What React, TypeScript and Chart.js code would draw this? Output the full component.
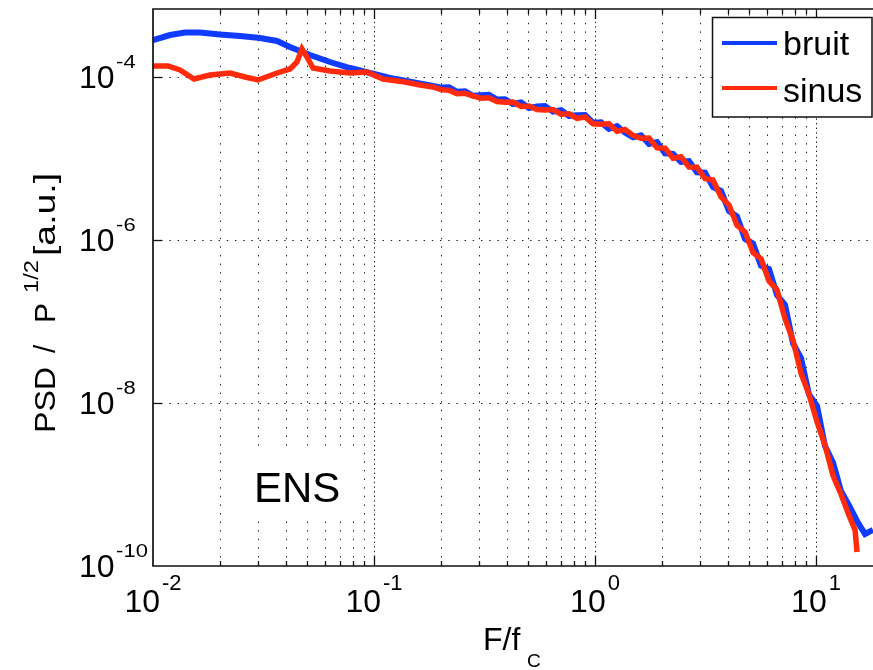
import React, { useEffect, useRef } from 'react';
import { Chart, registerables } from 'chart.js';

Chart.register(...registerables);

// ---- Data ----
const X_MIN = 0.01;
const X_MAX = 18.11;
const Y_MIN = 1e-10;
const Y_MAX = 6.83e-4;

const xMajorTicks = [0.01, 0.1, 1, 10];
const xTickExponents = ['-2', '-1', '0', '1'];
const xMinorMultipliers = [2, 3, 4, 5, 6, 7, 8, 9];
const yMajorTicks = [1e-10, 1e-8, 1e-6, 1e-4];
const yTickExponents = ['-10', '-8', '-6', '-4'];

const bruitFreq = [
  0.01, 0.01194, 0.01396, 0.01632, 0.0201, 0.02476, 0.0305, 0.0364, 0.04168, 0.05133,
  0.06324, 0.07789, 0.09592, 0.1182, 0.1565, 0.1849,
  0.201, 0.2185, 0.2375, 0.2581, 0.2805, 0.3049, 0.3314, 0.3602, 0.3915, 0.4256,
  0.4626, 0.5028, 0.5465, 0.594, 0.6457, 0.7018, 0.7628, 0.8291, 0.9012, 0.9795,
  1.0646, 1.157, 1.258, 1.367, 1.486, 1.615, 1.756, 1.908, 2.074, 2.254,
  2.45, 2.663, 2.894, 3.146, 3.42, 3.717, 4.04, 4.391, 4.773, 5.188,
  5.639, 6.129, 6.662, 7.241, 7.87, 8.554, 9.299, 10.11, 10.98, 11.94,
  12.98, 14.11, 15.33, 16.67, 18.11,
];
const bruitPsd = [
  2.844e-4, 3.276e-4, 3.516e-4, 3.516e-4, 3.323e-4, 3.184e-4, 3.009e-4, 2.765e-4, 2.334e-4, 1.862e-4,
  1.528e-4, 1.289e-4, 1.12e-4, 9.72e-5, 8.44e-5, 7.76e-5,
  7.41e-5, 7.5e-5, 6.58e-5, 6.68e-5, 5.88e-5, 5.98e-5, 6.05e-5, 5.3e-5, 5.32e-5, 4.66e-5,
  4.87e-5, 4.17e-5, 4.36e-5, 4.41e-5, 3.76e-5, 3.91e-5, 3.34e-5, 3.39e-5, 3.42e-5, 2.75e-5,
  2.78e-5, 2.31e-5, 2.49e-5, 2.08e-5, 1.82e-5, 1.93e-5, 1.51e-5, 1.59e-5, 1.16e-5, 1.14e-5,
  9.11e-6, 9.29e-6, 6.79e-6, 6.71e-6, 4.47e-6, 3.99e-6, 2.27e-6, 1.95e-6, 1.03e-6, 9.03e-7,
  4.83e-7, 4.41e-7, 2.11e-7, 1.6e-7, 5.39e-8, 3.55e-8, 1.27e-8, 9.19e-9, 2.97e-9, 1.86e-9,
  8.27e-10, 5.54e-10, 3.57e-10, 2.47e-10, 2.77e-10,
];

const sinusFreq = [
  0.01, 0.01169, 0.01325, 0.01533, 0.01811, 0.02231, 0.02608, 0.02987, 0.0364, 0.04168,
  0.04483, 0.04722, 0.04975, 0.05297, 0.06324, 0.07789, 0.09297, 0.1098, 0.1381, 0.1615,
  0.1849,
  0.201, 0.2185, 0.2375, 0.2581, 0.2805, 0.3049, 0.3314, 0.3602, 0.3915, 0.4256,
  0.4626, 0.5028, 0.5465, 0.594, 0.6457, 0.7018, 0.7628, 0.8291, 0.9012, 0.9795,
  1.0646, 1.157, 1.258, 1.367, 1.486, 1.615, 1.756, 1.908, 2.074, 2.254,
  2.45, 2.663, 2.894, 3.146, 3.42, 3.717, 4.04, 4.391, 4.773, 5.188,
  5.639, 6.129, 6.662, 7.241, 7.87, 8.554, 9.299, 10.11, 10.98, 11.94,
  12.98, 14.11, 15.02, 15.33,
];
const sinusPsd = [
  1.365e-4, 1.365e-4, 1.219e-4, 9.45e-5, 1.058e-4, 1.12e-4, 1.0e-4, 9.19e-5, 1.12e-4, 1.254e-4,
  1.528e-4, 2.206e-4, 1.759e-4, 1.289e-4, 1.185e-4, 1.12e-4, 1.152e-4, 9.45e-5, 8.68e-5, 7.98e-5,
  7.54e-5,
  7.0e-5, 6.89e-5, 6.22e-5, 6.31e-5, 5.88e-5, 5.5e-5, 5.56e-5, 5.0e-5, 4.89e-5, 4.93e-5,
  4.35e-5, 4.41e-5, 4.0e-5, 3.94e-5, 3.98e-5, 3.5e-5, 3.54e-5, 3.11e-5, 3.23e-5, 2.67e-5,
  2.63e-5, 2.67e-5, 2.16e-5, 2.27e-5, 1.92e-5, 1.77e-5, 1.78e-5, 1.35e-5, 1.34e-5, 1.01e-5,
  1.05e-5, 7.84e-6, 7.83e-6, 5.67e-6, 5.45e-6, 3.37e-6, 2.69e-6, 1.51e-6, 1.26e-6, 7.0e-7,
  5.88e-7, 3.14e-7, 2.44e-7, 1.08e-7, 5.86e-8, 2.32e-8, 1.27e-8, 5.85e-9, 3.05e-9, 1.29e-9,
  7.6e-10, 4.18e-10, 2.77e-10, 1.49e-10,
];

const seriesLabels = ['bruit', 'sinus'];
const annotationText = 'ENS';

// ---- Styles ----
const FONT = '"Liberation Sans", Arial, Helvetica, sans-serif';
const BLUE = '#0f3cff';
const RED = '#ff2b0a';
const GRID = '#1c1c1c';

function toPoints(xs: number[], ys: number[]) {
  return xs.map((x, i) => ({ x, y: ys[i] }));
}

function fitText(ctx: CanvasRenderingContext2D, text: string, x: number, y: number, len: number) {
  const w = ctx.measureText(text).width;
  ctx.save();
  ctx.translate(x, y);
  ctx.scale(len / w, 1);
  ctx.fillText(text, 0, 0);
  ctx.restore();
}

const matlabPlugin = {
  id: 'matlabAxes',
  beforeDraw(chart: any) {
    const { ctx, width, height } = chart;
    ctx.save();
    ctx.fillStyle = '#ffffff';
    ctx.fillRect(0, 0, width, height);
    ctx.restore();
  },
  beforeDatasetsDraw(chart: any) {
    const ctx: CanvasRenderingContext2D = chart.ctx;
    const xs = chart.scales.x;
    const ys = chart.scales.y;
    const a = chart.chartArea;
    ctx.save();
    ctx.strokeStyle = GRID;
    ctx.lineWidth = 1;
    // vertical grid: minor
    ctx.setLineDash([1.4, 7.2]);
    xMajorTicks.forEach((base) => {
      xMinorMultipliers.forEach((m) => {
        const v = base * m;
        if (v <= X_MIN || v >= X_MAX) return;
        const px = Math.round(xs.getPixelForValue(v)) + 0.5;
        ctx.beginPath();
        ctx.moveTo(px, a.bottom);
        ctx.lineTo(px, a.top);
        ctx.stroke();
      });
    });
    // vertical grid: major (denser)
    ctx.setLineDash([1.4, 3.2]);
    xMajorTicks.forEach((v) => {
      if (v <= X_MIN || v >= X_MAX) return;
      const px = Math.round(xs.getPixelForValue(v)) + 0.5;
      ctx.beginPath();
      ctx.moveTo(px, a.bottom);
      ctx.lineTo(px, a.top);
      ctx.stroke();
    });
    // horizontal grid
    ctx.setLineDash([1.4, 6.8]);
    yMajorTicks.forEach((v) => {
      if (v <= Y_MIN || v >= Y_MAX) return;
      const py = Math.round(ys.getPixelForValue(v)) + 0.5;
      ctx.beginPath();
      ctx.moveTo(a.left, py);
      ctx.lineTo(a.right, py);
      ctx.stroke();
    });
    ctx.setLineDash([]);

    // ENS annotation with white background
    ctx.fillStyle = '#ffffff';
    ctx.fillRect(240, 450, 118, 70);
    ctx.fillStyle = '#000000';
    ctx.font = `42px ${FONT}`;
    ctx.textBaseline = 'alphabetic';
    ctx.textAlign = 'left';
    ctx.fillText(annotationText, 254, 502);
    ctx.restore();
  },
  afterDatasetsDraw(chart: any) {
    const ctx: CanvasRenderingContext2D = chart.ctx;
    const xs = chart.scales.x;
    const ys = chart.scales.y;
    const a = chart.chartArea;
    ctx.save();
    ctx.strokeStyle = '#111111';
    ctx.lineWidth = 1.7;
    // axes frame (left, bottom, top)
    ctx.beginPath();
    ctx.moveTo(a.right + 2, a.top);
    ctx.lineTo(a.left, a.top);
    ctx.lineTo(a.left, a.bottom);
    ctx.lineTo(a.right + 2, a.bottom);
    ctx.stroke();

    // tick marks
    ctx.lineWidth = 1.3;
    const tick = (px: number, len: number) => {
      ctx.beginPath();
      ctx.moveTo(px, a.bottom);
      ctx.lineTo(px, a.bottom - len);
      ctx.moveTo(px, a.top);
      ctx.lineTo(px, a.top + len);
      ctx.stroke();
    };
    xMajorTicks.forEach((base) => {
      xMinorMultipliers.forEach((m) => {
        const v = base * m;
        if (v <= X_MIN || v >= X_MAX) return;
        tick(Math.round(xs.getPixelForValue(v)) + 0.5, 5);
      });
      if (base > X_MIN && base < X_MAX) tick(Math.round(xs.getPixelForValue(base)) + 0.5, 10);
    });
    yMajorTicks.forEach((v) => {
      if (v <= Y_MIN || v >= Y_MAX) return;
      const py = Math.round(ys.getPixelForValue(v)) + 0.5;
      ctx.beginPath();
      ctx.moveTo(a.left, py);
      ctx.lineTo(a.left + 9, py);
      ctx.stroke();
    });

    // tick labels
    ctx.fillStyle = '#000000';
    ctx.textBaseline = 'alphabetic';
    ctx.textAlign = 'left';
    xMajorTicks.forEach((v, i) => {
      const px = xs.getPixelForValue(v);
      ctx.font = `32px ${FONT}`;
      const w1 = ctx.measureText('10').width;
      ctx.font = `22px ${FONT}`;
      const w2 = ctx.measureText(xTickExponents[i]).width;
      const start = px - (w1 + 2 + w2) / 2;
      ctx.font = `32px ${FONT}`;
      ctx.fillText('10', start, 612);
      ctx.font = `22px ${FONT}`;
      ctx.fillText(xTickExponents[i], start + w1 + 2, 590);
    });
    yMajorTicks.forEach((v, i) => {
      const py = ys.getPixelForValue(v);
      ctx.font = `32px ${FONT}`;
      const w1 = ctx.measureText('10').width;
      ctx.fillText('10', 79, py + 11);
      ctx.font = `22px ${FONT}`;
      ctx.save();
      ctx.translate(79 + w1 + 1.5, py - 9);
      ctx.scale(1, 0.8);
      ctx.fillText(yTickExponents[i], 0, 0);
      ctx.restore();
    });

    // x axis title: F/f_C
    ctx.font = `32px ${FONT}`;
    ctx.fillText('F/f', 483, 650);
    ctx.font = `19px ${FONT}`;
    ctx.fillText('C', 527, 667);

    // y axis title: PSD / P^{1/2} [a.u.]
    ctx.save();
    ctx.translate(55, 433);
    ctx.rotate(-Math.PI / 2);
    ctx.font = `30px ${FONT}`;
    fitText(ctx, 'PSD', 0, 0, 66);
    ctx.fillText('/', 80, 0);
    fitText(ctx, 'P', 110, 0, 20);
    ctx.font = `21px ${FONT}`;
    fitText(ctx, '1/2', 140, -17, 33);
    ctx.font = `30px ${FONT}`;
    fitText(ctx, '[a.u.]', 177, 0, 83);
    ctx.restore();

    // legend
    const ds = chart.data.datasets;
    ctx.fillStyle = '#ffffff';
    ctx.fillRect(712, 17, 160, 100);
    ctx.strokeStyle = '#111111';
    ctx.lineWidth = 1.5;
    ctx.strokeRect(712.5, 17.5, 159.5, 99.5);
    const rows = [
      { lineY: 43, textY: 55 },
      { lineY: 88, textY: 102 },
    ];
    seriesLabels.forEach((label, i) => {
      const d = ds.find((s: any) => s.label === label);
      ctx.strokeStyle = d.borderColor;
      ctx.lineWidth = 4;
      ctx.beginPath();
      ctx.moveTo(722, rows[i].lineY);
      ctx.lineTo(777, rows[i].lineY);
      ctx.stroke();
      ctx.fillStyle = '#000000';
      ctx.font = `34px ${FONT}`;
      ctx.fillText(label, 783, rows[i].textY);
    });
    ctx.restore();
  },
};

export default function App() {
  const ref = useRef<HTMLCanvasElement>(null);
  useEffect(() => {
    if (!ref.current) return;
    const chart = new Chart(ref.current, {
      type: 'line',
      data: {
        datasets: [
          {
            label: seriesLabels[0],
            data: toPoints(bruitFreq, bruitPsd),
            borderColor: BLUE,
            borderWidth: 6,
            pointRadius: 0,
            tension: 0,
            order: 2,
            borderJoinStyle: 'miter',
          },
          {
            label: seriesLabels[1],
            data: toPoints(sinusFreq, sinusPsd),
            borderColor: RED,
            borderWidth: 5.5,
            pointRadius: 0,
            tension: 0,
            order: 1,
            borderJoinStyle: 'miter',
          },
        ],
      },
      options: {
        animation: false,
        responsive: false,
        devicePixelRatio: 1,
        layout: { padding: { left: 153, top: 9, right: 0, bottom: 104 } },
        plugins: { legend: { display: false }, tooltip: { enabled: false } },
        events: [],
        scales: {
          x: { type: 'logarithmic', min: X_MIN, max: X_MAX, display: false },
          y: { type: 'logarithmic', min: Y_MIN, max: Y_MAX, display: false },
        },
      },
      plugins: [matlabPlugin],
    } as any);
    return () => chart.destroy();
  }, []);
  return (
    <div style={{ position: 'absolute', left: 0, top: 0, width: 873, height: 670 }}>
      <canvas ref={ref} width={873} height={670} style={{ display: 'block', width: 873, height: 670 }} />
    </div>
  );
}
